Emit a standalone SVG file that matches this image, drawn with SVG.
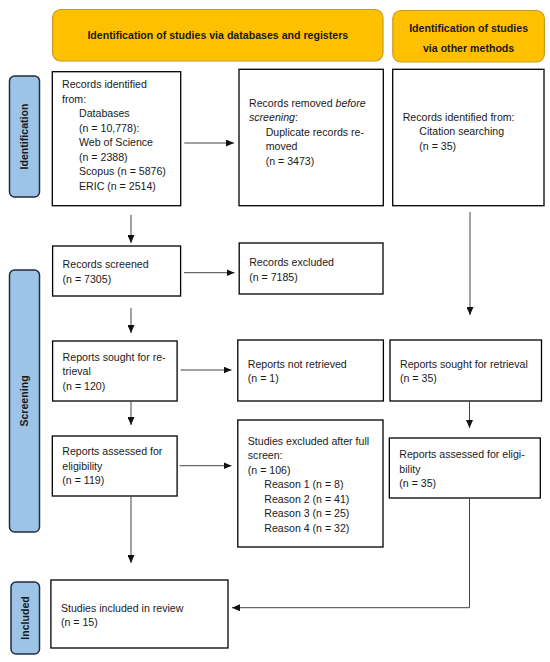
<svg xmlns="http://www.w3.org/2000/svg" width="550" height="662" viewBox="0 0 550 662">
<style>
.hdr{fill:#FFC000;stroke:#C99A1E;stroke-width:1.2}
.side{fill:#9DC3E6;stroke:#1F2D3D;stroke-width:1.5}
.box{fill:#fff;stroke:#000;stroke-width:1.3}
text{font-family:"Liberation Sans",Arial,sans-serif;font-size:10.6px;fill:#1a1a1a}
.b{font-weight:bold}
.c{text-anchor:middle}
.con{fill:none;stroke:#444;stroke-width:1}
</style>
<defs>
<marker id="ah" markerUnits="userSpaceOnUse" markerWidth="8" markerHeight="7" refX="8" refY="3.5" orient="auto">
<path d="M0,0 L8,3.5 L0,7 z" fill="#111"/>
</marker>
</defs>
<rect width="550" height="662" fill="#fff"/>

<g id="header-databases">
<rect class="hdr" x="52.6" y="9.5" width="330.4" height="51.5" rx="8"/>
<text class="b c" x="217.8" y="39">Identification of studies via databases and registers</text>
</g>
<g id="header-other">
<rect class="hdr" x="392.8" y="10.5" width="151.6" height="51.5" rx="8"/>
<text class="b c" x="468.6" y="31.5">Identification of studies</text>
<text class="b c" x="468.6" y="51.5">via other methods</text>
</g>

<g id="label-identification">
<rect class="side" x="9.5" y="76" width="30" height="121" rx="5"/>
<text class="b c" transform="rotate(-90 24.5 136.5)" x="24.5" y="140.3">Identification</text>
</g>
<g id="label-screening">
<rect class="side" x="9.5" y="270" width="30" height="262" rx="5"/>
<text class="b c" transform="rotate(-90 24.5 401)" x="24.5" y="404.8">Screening</text>
</g>
<g id="label-included">
<rect class="side" x="11" y="582" width="28.5" height="72" rx="5"/>
<text class="b c" transform="rotate(-90 25.25 618)" x="25.25" y="621.8">Included</text>
</g>

<g id="records-identified">
<rect class="box" x="52.3" y="71.7" width="128.4" height="134"/>
<text x="62" y="88">Records identified</text>
<text x="62" y="102.5">from:</text>
<text x="79" y="117">Databases</text>
<text x="79" y="131.5">(n = 10,778):</text>
<text x="79" y="146">Web of Science</text>
<text x="79" y="160.5">(n = 2388)</text>
<text x="79" y="175">Scopus (n = 5876)</text>
<text x="79" y="189.5">ERIC (n = 2514)</text>
</g>
<g id="records-removed">
<rect class="box" x="239" y="69.3" width="144.3" height="136.4"/>
<text x="249" y="106.5">Records removed <tspan font-style="italic">before</tspan></text>
<text x="249" y="121"><tspan font-style="italic">screening</tspan>:</text>
<text x="265.7" y="135.5">Duplicate records re-</text>
<text x="265.7" y="150">moved</text>
<text x="265.7" y="164.5">(n = 3473)</text>
</g>
<g id="records-other">
<rect class="box" x="392.7" y="69.3" width="151.3" height="136.4"/>
<text x="402.7" y="120.5">Records identified from:</text>
<text x="419.3" y="135">Citation searching</text>
<text x="419.3" y="149.5">(n = 35)</text>
</g>
<g id="records-screened">
<rect class="box" x="52.6" y="246" width="128" height="50"/>
<text x="62.6" y="268">Records screened</text>
<text x="62.6" y="282.5">(n = 7305)</text>
</g>
<g id="records-excluded">
<rect class="box" x="239.2" y="243" width="143.8" height="51"/>
<text x="249.2" y="266">Records excluded</text>
<text x="249.2" y="280.5">(n = 7185)</text>
</g>
<g id="reports-sought">
<rect class="box" x="52.6" y="341" width="124.5" height="60"/>
<text x="62.6" y="360.5">Reports sought for re-</text>
<text x="62.6" y="375">trieval</text>
<text x="62.6" y="389.5">(n = 120)</text>
</g>
<g id="reports-not-retrieved">
<rect class="box" x="237.8" y="340" width="145.6" height="61"/>
<text x="247.8" y="367.5">Reports not retrieved</text>
<text x="247.8" y="382">(n = 1)</text>
</g>
<g id="reports-sought-other">
<rect class="box" x="390" y="340" width="151.5" height="61"/>
<text x="400" y="367.5">Reports sought for retrieval</text>
<text x="400" y="382">(n = 35)</text>
</g>
<g id="reports-assessed">
<rect class="box" x="52.3" y="436" width="124.8" height="60"/>
<text x="62.3" y="455">Reports assessed for</text>
<text x="62.3" y="469.5">eligibility</text>
<text x="62.3" y="484">(n = 119)</text>
</g>
<g id="studies-excluded">
<rect class="box" x="237.8" y="420" width="145.2" height="127"/>
<text x="247.8" y="444.5">Studies excluded after full</text>
<text x="247.8" y="459">screen:</text>
<text x="247.8" y="473.5">(n = 106)</text>
<text x="264.3" y="488">Reason 1 (n = 8)</text>
<text x="264.3" y="502.5">Reason 2 (n = 41)</text>
<text x="264.3" y="517">Reason 3 (n = 25)</text>
<text x="264.3" y="531.5">Reason 4 (n = 32)</text>
</g>
<g id="reports-assessed-other">
<rect class="box" x="389.3" y="438" width="151" height="60"/>
<text x="399.3" y="458">Reports assessed for eligi-</text>
<text x="399.3" y="472.5">bility</text>
<text x="399.3" y="487">(n = 35)</text>
</g>
<g id="studies-included">
<rect class="box" x="50.9" y="580" width="177.1" height="68"/>
<text x="60.9" y="611.5">Studies included in review</text>
<text x="60.9" y="626">(n = 15)</text>
</g>

<g id="connectors">
<line class="con" x1="184.3" y1="143" x2="234" y2="143" marker-end="url(#ah)"/>
<line class="con" x1="131" y1="215" x2="131" y2="243" marker-end="url(#ah)"/>
<line class="con" x1="184" y1="272.7" x2="234.5" y2="272.7" marker-end="url(#ah)"/>
<line class="con" x1="131" y1="308" x2="131" y2="333" marker-end="url(#ah)"/>
<line class="con" x1="470" y1="212" x2="470" y2="315" marker-end="url(#ah)"/>
<line class="con" x1="180.6" y1="370" x2="231.5" y2="370" marker-end="url(#ah)"/>
<line class="con" x1="131" y1="401" x2="131" y2="425" marker-end="url(#ah)"/>
<line class="con" x1="469.5" y1="402" x2="469.5" y2="428" marker-end="url(#ah)"/>
<line class="con" x1="179.6" y1="465.7" x2="231.5" y2="465.7" marker-end="url(#ah)"/>
<line class="con" x1="131" y1="496" x2="131" y2="563" marker-end="url(#ah)"/>
<polyline class="con" points="469.5,498 469.5,607.7 232,607.7" marker-end="url(#ah)"/>
</g>
</svg>
